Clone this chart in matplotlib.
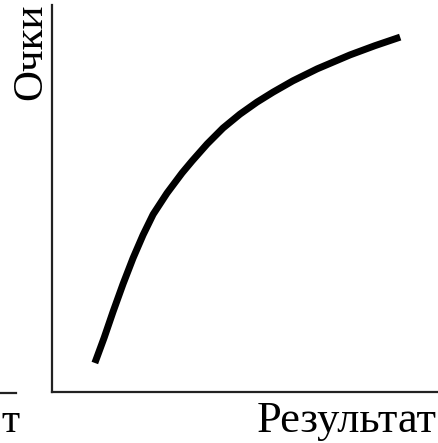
import matplotlib
matplotlib.use("Agg")
import matplotlib.pyplot as plt
from matplotlib.lines import Line2D

# curve (axes 0..100 on both sides)
result = [11.1, 13.5, 15.8, 18.4, 21.0, 23.6, 26.2, 29.8, 33.7, 36.3,
          40.2, 44.3, 48.7, 53.1, 57.3, 62.4, 68.7, 77.2, 83.7, 90.2]
points = [7.5, 14.0, 20.7, 27.9, 34.6, 40.6, 45.9, 51.4, 56.6, 59.7,
          64.1, 68.2, 71.8, 74.9, 77.5, 80.4, 83.5, 87.1, 89.5, 91.7]

x_label = "Результат"
y_label = "Очки"

plt.rcParams['font.family'] = ['Liberation Serif', 'DejaVu Serif']

W, H = 438, 443
fig = plt.figure(figsize=(W / 100, H / 100), dpi=100)
ax = fig.add_axes([52 / W, (H - 392) / H, (W - 52) / W, (392 - 5) / H])

ax.plot(result, points, color='black', linewidth=5,
        solid_capstyle='butt', solid_joinstyle='round')
ax.set_xlim(0, 100)
ax.set_ylim(0, 100)
ax.set_xticks([])
ax.set_yticks([])
for side in ('top', 'right'):
    ax.spines[side].set_visible(False)
for side in ('left', 'bottom'):
    ax.spines[side].set_linewidth(1.6)
    ax.spines[side].set_color('#222222')

# axis titles sit at the ends of the axes
fig.text(437 / W, (H - 432) / H, x_label, ha='right', va='baseline', fontsize=32)
fig.text(12 / W, (H - 4) / H, y_label, rotation=90, ha='left', va='top', fontsize=31)

# piece of the neighbouring chart on the left
fig.add_artist(Line2D([0, 16 / W], [(H - 393) / H] * 2, color='#222222', linewidth=1.6))
fig.text(1 / W, (H - 432) / H, "т", ha='left', va='baseline', fontsize=30)

fig.savefig("out.png", dpi=100, facecolor='white')
